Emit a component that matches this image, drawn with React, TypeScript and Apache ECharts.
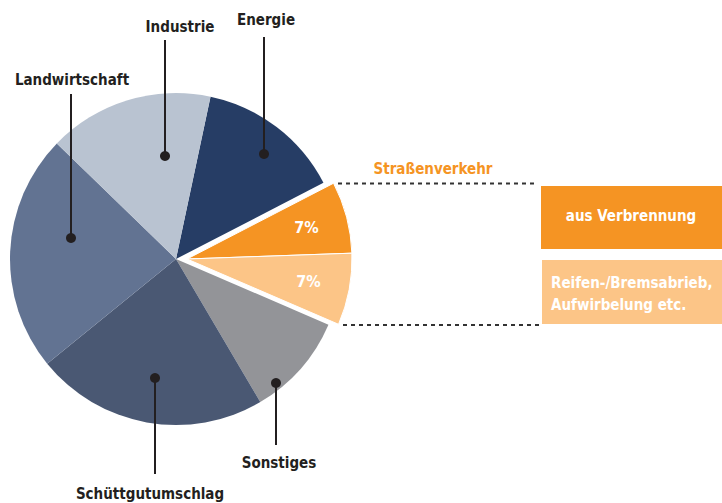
import React, { useEffect, useRef } from "react";
import * as echarts from "echarts";

// ---- data ----
const categories = [
  "Energie",
  "aus Verbrennung",
  "Reifen-/Bremsabrieb, Aufwirbelung etc.",
  "Sonstiges",
  "Schüttgutumschlag",
  "Landwirtschaft",
  "Industrie",
];
const values = [14, 7, 7, 10, 22.5, 23, 16];
const exploded = [false, true, true, false, false, false, false];
const percentLabels = ["", "7%", "7%", "", "", "", ""];
const colors = ["#263d65", "#f59423", "#fcc587", "#939498", "#4a5873", "#627392", "#b9c3d1"];

const FONT = "'DejaVu Sans Condensed', 'DejaVu Sans', sans-serif";
const DARK = "#231f20";
const FS = 15;

export default function App() {
  const ref = useRef<HTMLDivElement>(null);
  useEffect(() => {
    if (!ref.current) return;
    const chart = echarts.init(ref.current, undefined, { renderer: "svg" });
    const T = "rgba(0,0,0,0)";
    const mainData = categories.map((name, i) => ({
      name,
      value: values[i],
      itemStyle: { color: exploded[i] ? T : colors[i] },
    }));
    const explData = categories.map((name, i) => ({
      name,
      value: values[i],
      itemStyle: exploded[i]
        ? { color: colors[i], borderColor: "#ffffff", borderWidth: 1 }
        : { color: T, borderWidth: 0 },
    }));
    const labelData = categories.map((name, i) => ({
      name,
      value: values[i],
      itemStyle: { color: T, borderWidth: 0 },
      label: { show: exploded[i], formatter: percentLabels[i] },
    }));

    const annot = (
      label: string,
      tx: number,
      ty: number,
      lx: number,
      y1: number,
      y2: number
    ) => [
      {
        type: "text",
        x: tx,
        y: ty,
        z: 100,
        style: {
          text: label,
          font: `bold ${FS}px ${FONT}`,
          fill: DARK,
          align: "center",
          verticalAlign: "middle",
        },
      },
      {
        type: "line",
        z: 100,
        shape: { x1: lx, y1, x2: lx, y2 },
        style: { stroke: DARK, lineWidth: 2 },
      },
      {
        type: "circle",
        z: 101,
        shape: { cx: lx, cy: y2, r: 5 },
        style: { fill: DARK },
      },
    ];

    const graphics: any[] = [
      ...annot("Industrie", 180, 27, 165, 40, 156),
      ...annot("Energie", 266, 20, 264, 37, 154),
      ...annot("Landwirtschaft", 72, 80, 71, 94, 238),
      ...annot("Sonstiges", 279, 463, 276, 445, 383),
      ...annot("Schüttgutumschlag", 150, 494, 155, 474, 378),
      {
        type: "text",
        x: 433,
        y: 169,
        z: 100,
        style: {
          text: "Straßenverkehr",
          font: `bold ${FS}px ${FONT}`,
          fill: "#f59423",
          align: "center",
          verticalAlign: "middle",
        },
      },
      {
        type: "line",
        z: 100,
        shape: { x1: 338, y1: 183.5, x2: 537, y2: 183.5 },
        style: { stroke: "#333333", lineWidth: 2, lineDash: [4, 4] },
      },
      {
        type: "line",
        z: 100,
        shape: { x1: 343, y1: 325, x2: 539, y2: 325 },
        style: { stroke: "#333333", lineWidth: 2, lineDash: [4, 4] },
      },
      {
        type: "rect",
        z: 100,
        shape: { x: 541, y: 186, width: 181, height: 63 },
        style: { fill: "#f59423" },
      },
      {
        type: "text",
        x: 631,
        y: 216,
        z: 101,
        style: {
          text: "aus Verbrennung",
          font: `bold ${FS}px ${FONT}`,
          fill: "#ffffff",
          align: "center",
          verticalAlign: "middle",
        },
      },
      {
        type: "rect",
        z: 100,
        shape: { x: 542, y: 260, width: 180, height: 64 },
        style: { fill: "#fcc587" },
      },
      {
        type: "text",
        x: 551,
        y: 294,
        z: 101,
        style: {
          text: "Reifen-/Bremsabrieb,\nAufwirbelung etc.",
          font: `bold ${FS}px ${FONT}`,
          fill: "#ffffff",
          align: "left",
          verticalAlign: "middle",
          lineHeight: 22,
        },
      },
    ];

    chart.setOption({
      animation: false,
      series: [
        {
          type: "pie",
          center: [176, 259],
          radius: 166,
          startAngle: 78,
          clockwise: true,
          silent: true,
          label: { show: false },
          labelLine: { show: false },
          data: mainData,
        },
        {
          type: "pie",
          center: [187, 259],
          radius: 165,
          startAngle: 78,
          clockwise: true,
          silent: true,
          label: { show: false },
          labelLine: { show: false },
          data: explData,
        },
        {
          type: "pie",
          center: [187, 259],
          radius: [76, 165],
          startAngle: 78,
          clockwise: true,
          silent: true,
          label: {
            show: false,
            position: "inside",
            color: "#ffffff",
            fontSize: 16,
            fontWeight: "bold",
            fontFamily: FONT,
          },
          labelLine: { show: false },
          data: labelData,
        },
      ],
      graphic: graphics,
    });
    return () => chart.dispose();
  }, []);
  return (
    <div
      ref={ref}
      style={{ position: "fixed", left: 0, top: 0, width: 722, height: 503, background: "#ffffff" }}
    />
  );
}
